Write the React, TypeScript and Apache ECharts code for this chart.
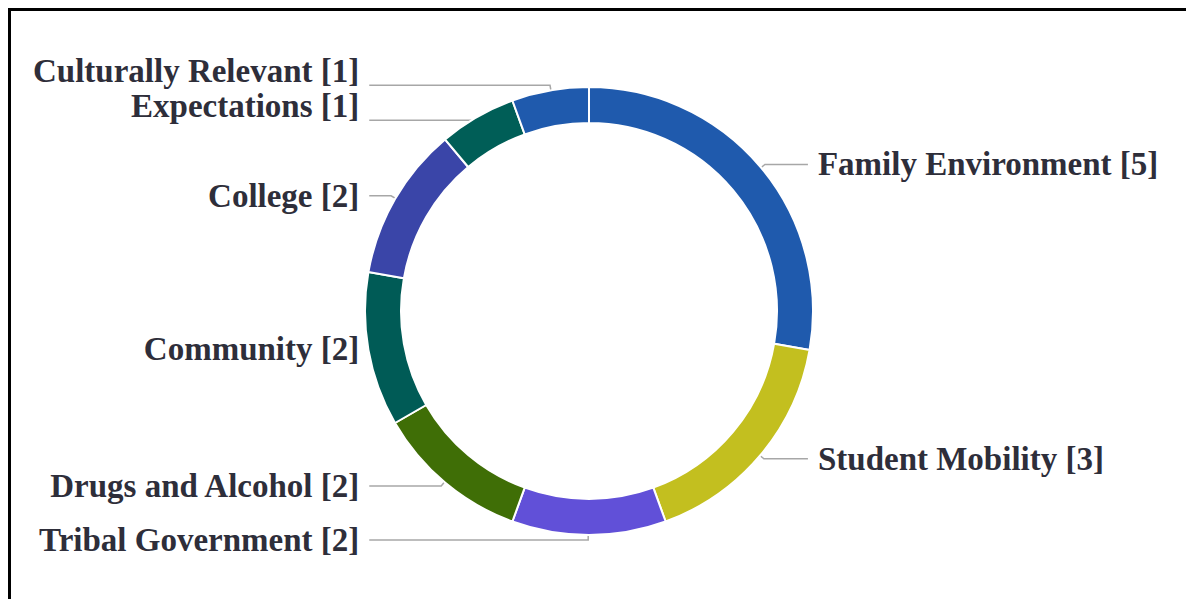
import React, { useEffect, useRef } from 'react';
import * as echarts from 'echarts';

const categories = [
  'Family Environment',
  'Student Mobility',
  'Tribal Government',
  'Drugs and Alcohol',
  'Community',
  'College',
  'Expectations',
  'Culturally Relevant',
];
const counts = [5, 3, 2, 2, 2, 2, 1, 1];
const colors = ['#1f5aad', '#c3bf1f', '#6150d8', '#3f6e06', '#005b56', '#3a45a8', '#005e57', '#1f5aad'];

// label tweaks for the crowded top-left pair (text sits above its leader line)
const raisedLabels: Record<string, number> = { Expectations: -14, 'Culturally Relevant': -14 };
const shortLeader: Record<string, boolean> = { Community: true };

export default function App() {
  const ref = useRef<HTMLDivElement>(null);
  useEffect(() => {
    const chart = echarts.init(ref.current!, null, { renderer: 'svg' });
    const total = counts.reduce((a, b) => a + b, 0);
    let cum = 0;
    const sides = counts.map((v) => {
      const mid = cum + v / 2;
      cum += v;
      return mid < total / 2 ? 'right' : 'left';
    });
    const ringData = categories.map((name, i) => ({
      name,
      value: counts[i],
      itemStyle: { color: colors[i] },
    }));
    const labelData = categories.map((name, i) => ({
      name,
      value: counts[i],
      labelLine: {
        length: shortLeader[name] ? 18 : 24,
        length2: sides[i] === 'right' ? 43 : 0,
      },
      label: raisedLabels[name] != null ? { lineHeight: 20, offset: [0, raisedLabels[name]] } : {},
    }));
    chart.setOption({
      animation: false,
      graphic: [
        {
          type: 'rect',
          shape: { x: 9.5, y: 9.5, width: 1300, height: 700 },
          style: { fill: 'none', stroke: '#000', lineWidth: 3 },
          silent: true,
          z: 10,
        },
      ],
      series: [
        {
          type: 'pie',
          center: [589, 311],
          radius: [188, 224],
          startAngle: 90,
          clockwise: true,
          data: ringData,
          label: { show: false },
          labelLine: { show: false },
          itemStyle: { borderColor: '#fff', borderWidth: 2 },
          silent: true,
        },
        {
          type: 'pie',
          center: [589, 311],
          radius: [0, 205],
          startAngle: 89.8,
          clockwise: true,
          data: labelData,
          itemStyle: { color: 'rgba(0,0,0,0)' },
          label: {
            show: true,
            formatter: '{b} [{c}]',
            fontFamily: '"Liberation Serif", "Times New Roman", serif',
            fontWeight: 'bold',
            fontSize: 33,
            color: '#2e2e3a',
            alignTo: 'labelLine',
            distanceToLabelLine: 10,
          },
          labelLine: {
            show: true,
            length: 24,
            length2: 0,
            lineStyle: { color: 'rgba(80,80,80,0.5)', width: 1.5 },
          },
          silent: true,
        },
      ],
    });
    return () => chart.dispose();
  }, []);
  return <div ref={ref} style={{ position: 'absolute', left: 0, top: 0, width: 1186, height: 599 }} />;
}
